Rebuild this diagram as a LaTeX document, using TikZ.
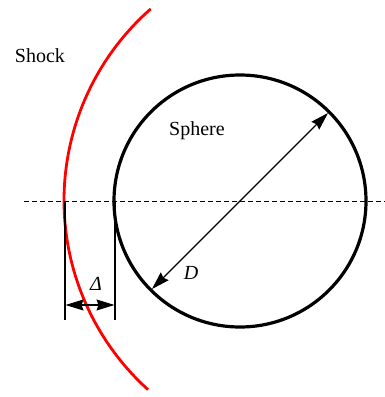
\documentclass[tikz,border=0pt]{standalone}
\usepackage{fontspec}
\setmainfont{Liberation Serif}
\usetikzlibrary{arrows.meta,calc}
\begin{document}
\begin{tikzpicture}[x=1pt,y=-1pt,
  lbl/.style={font=\fontsize{20}{24}\selectfont, inner sep=0pt},
  thin line/.style={line width=1.1pt},
  dimtip/.style={{Stealth[length=18pt,width=11pt,inset=2pt]}-{Stealth[length=18pt,width=11pt,inset=2pt]}}]
\useasboundingbox (0,0) rectangle (385,397);
% dashed axis
\coordinate (axL) at (24,201);
\coordinate (axR) at (385,201);
\draw[line width=0.9pt, dash pattern=on 5pt off 3pt] (axL) -- (axR);
% sphere
\coordinate (c) at (240,201);
\draw[line width=3.2pt] (c) circle[radius=126];
% shock
\coordinate (sc) at (319,200.5);
\draw[red, line width=2.8pt] ($(sc)+(-131.3:255)$) arc[start angle=-131.3, end angle=-227.9, radius=255];
% diameter
\coordinate (d1) at ($(c)+(-45:124.5)$);
\coordinate (d2) at ($(c)+(135:124.5)$);
\draw[thin line, dimtip] (d2) -- (d1);
% standoff
\coordinate (v1t) at (65,201);
\coordinate (v1b) at (65,320);
\coordinate (v2t) at (115,201);
\coordinate (v2b) at (115,320);
\draw[thin line] (v1t) -- (v1b);
\draw[thin line] (v2t) -- (v2b);
\coordinate (a1) at (65.5,305);
\coordinate (a2) at (114.5,305);
\draw[thin line, dimtip] (a1) -- (a2);
% labels
\node[lbl, anchor=base] (shock) at (40,62) {Shock};
\node[lbl, anchor=base] (sphere) at (197,135) {Sphere};
\node[lbl, anchor=base] (D) at (191,279) {\textit{D}};
\node[lbl, anchor=base] (delta) at (96,290) {\textit{Δ}};
\end{tikzpicture}
\end{document}
